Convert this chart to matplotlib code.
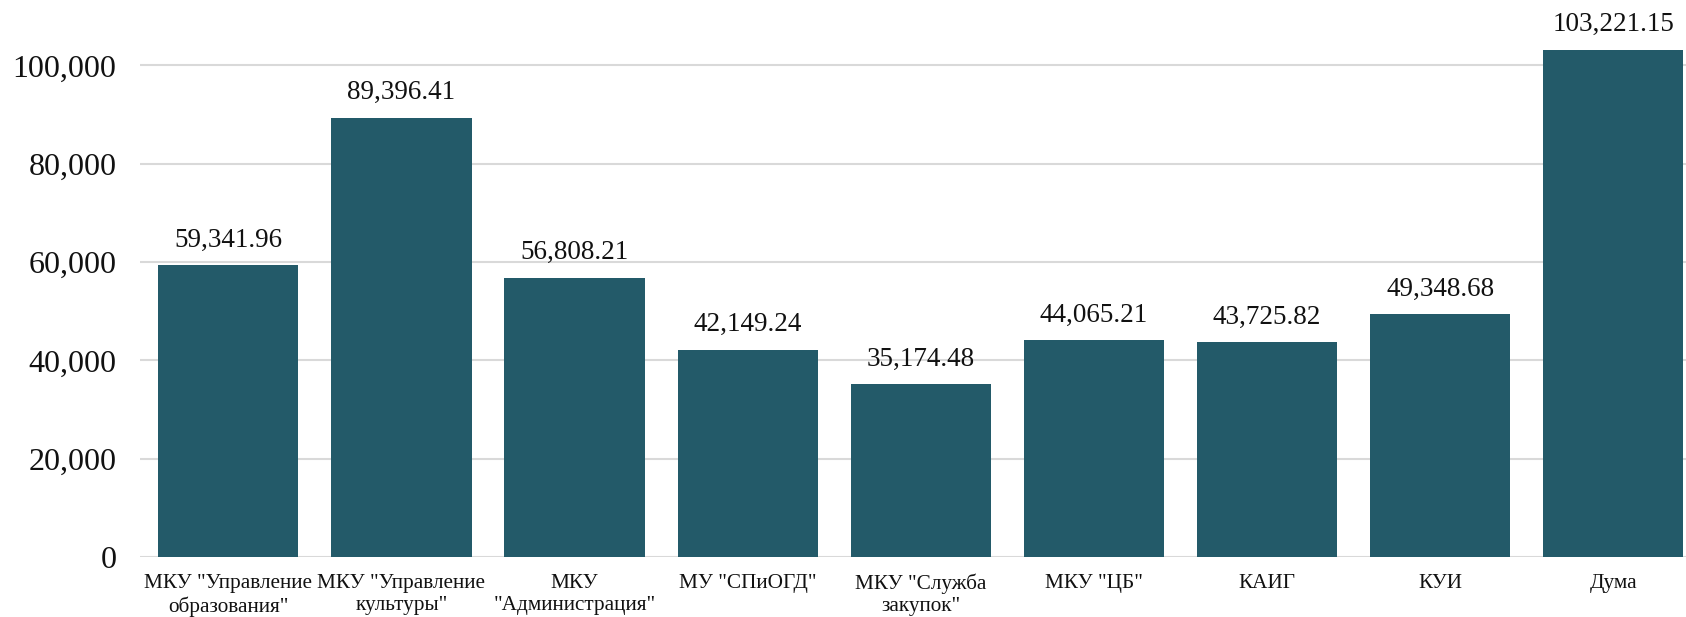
import matplotlib.pyplot as plt
from matplotlib.ticker import FuncFormatter

# Data
categories = [
    'МКУ "Управление\nобразования"',
    'МКУ "Управление\nкультуры"',
    'МКУ\n"Администрация"',
    'МУ "СПиОГД"',
    'МКУ "Служба\nзакупок"',
    'МКУ "ЦБ"',
    'КАИГ',
    'КУИ',
    'Дума',
]
values = [59341.96, 89396.41, 56808.21, 42149.24, 35174.48,
          44065.21, 43725.82, 49348.68, 103221.15]
yticks = [0, 20000, 40000, 60000, 80000, 100000]

bar_color = '#235a69'
grid_color = '#d9d9d9'

plt.rcParams['font.family'] = ['Liberation Serif', 'DejaVu Serif']

fig = plt.figure(figsize=(16.86, 6.17), dpi=100)
ax = fig.add_axes([140 / 1686, 60 / 617, 1 - 140 / 1686, 1 - 60 / 617])

x = list(range(len(categories)))
bars = ax.bar(x, values, width=0.81, color=bar_color, zorder=3)

for xi, v in zip(x, values):
    ax.annotate(f'{v:,.2f}', xy=(xi, v), xytext=(0, 9),
                textcoords='offset points', ha='center', va='bottom',
                fontsize=19.5, color='#111111')

ax.set_xlim(-0.51, len(categories) - 1 + 0.42)
ax.set_ylim(0, 113300)
ax.set_yticks(yticks)
ax.yaxis.set_major_formatter(FuncFormatter(lambda v, p: f'{v:,.0f}'))
ax.set_xticks(x)
ax.set_xticklabels(categories, fontsize=15.3, linespacing=1.22)

ax.tick_params(axis='y', length=0, pad=17, labelsize=23, labelcolor='#111111')
ax.tick_params(axis='x', length=0, pad=12, labelcolor='#111111')

ax.grid(axis='y', color=grid_color, linewidth=1.5, zorder=0)
for s in ax.spines.values():
    s.set_visible(False)

fig.savefig('out.png', dpi=100)
